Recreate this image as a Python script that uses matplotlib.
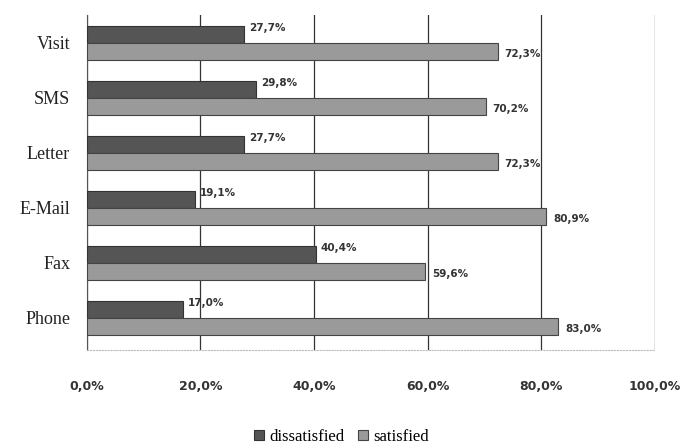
# horizontal bar chart: satisfaction by contact channel

import matplotlib.pyplot as plt
import numpy as np

# === Data ===
channels = ["Phone", "Fax", "E-Mail", "Letter", "SMS", "Visit"]
dissatisfied = [17.0, 40.4, 19.1, 27.7, 29.8, 27.7]
satisfied = [83.0, 59.6, 80.9, 72.3, 70.2, 72.3]
x_ticks = [0, 20, 40, 60, 80, 100]

dark = "#555555"
light = "#9a9a9a"

fig = plt.figure(figsize=(6.83, 4.48), dpi=100)
ax = fig.add_axes([0.127, 0.219, 0.832, 0.748])

y = np.arange(len(channels))
h = 0.31

ax.barh(y + h / 2, dissatisfied, height=h, color=dark, edgecolor="#333333",
        linewidth=0.8, label="dissatisfied", zorder=3)
ax.barh(y - h / 2, satisfied, height=h, color=light, edgecolor="#444444",
        linewidth=0.8, label="satisfied", zorder=3)

# === Data labels ===
lab_font = dict(fontsize=7.5, fontweight="bold", family="DejaVu Sans", color="#333333")
for yi, d, s in zip(y, dissatisfied, satisfied):
    ax.text(d + 0.8, yi + h / 2 + 0.12, f"{d:.1f}%".replace(".", ","),
            ha="left", va="center", zorder=4, **lab_font)
    ax.text(s + 1.2, yi - h / 2 - 0.05, f"{s:.1f}%".replace(".", ","),
            ha="left", va="center", zorder=4, **lab_font)

# === Axes formatting ===
ax.set_xlim(0, 100)
ax.set_ylim(-0.58, 5.51)
ax.set_xticks(x_ticks)
ax.set_xticklabels([f"{t:.1f}%".replace(".", ",") for t in x_ticks],
                   fontsize=9, fontweight="bold", family="DejaVu Sans", color="#333333")
ax.set_yticks(y)
ax.set_yticklabels(channels, fontsize=13, family="Liberation Serif", color="#222222")
ax.tick_params(axis="both", length=0)
ax.tick_params(axis="x", pad=22)
ax.tick_params(axis="y", pad=12)

ax.grid(axis="x", color="#333333", linewidth=0.9, zorder=0)
for side in ["top", "right"]:
    ax.spines[side].set_visible(False)
ax.spines["left"].set_color("#555555")
ax.spines["bottom"].set_color("#bbbbbb")
ax.spines["bottom"].set_linestyle(":")

handles, labels = ax.get_legend_handles_labels()
fig.legend(handles, labels, loc="center", bbox_to_anchor=(0.5, 0.025), ncol=2,
           frameon=False, handlelength=0.6, handleheight=0.6, handletextpad=0.3,
           columnspacing=0.8, prop={"family": "Liberation Serif", "size": 12})

plt.savefig("out.png", dpi=100)
